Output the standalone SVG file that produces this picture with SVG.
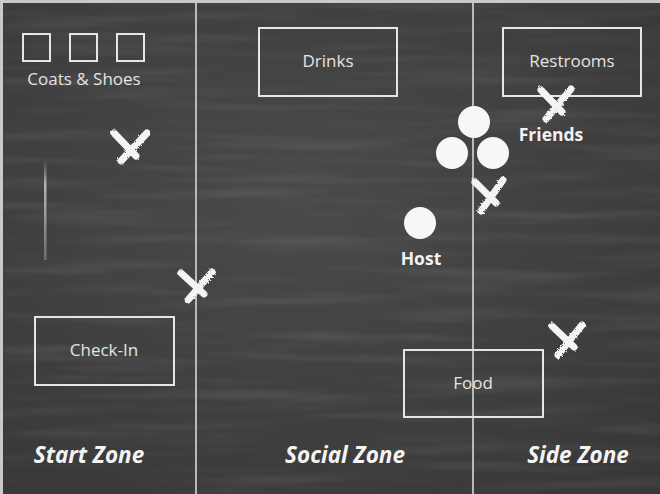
<svg xmlns="http://www.w3.org/2000/svg" width="660" height="494" viewBox="0 0 660 494">
  <defs>
    <style>
      .zone-line { stroke: #b9b9b9; stroke-width: 2; }
      .box { fill: none; stroke: #e6e6e6; stroke-width: 2; }
      .label { font-family: "Open Sans", "Noto Sans", sans-serif; font-size: 17px; fill: #e4e4e4; text-anchor: middle; }
      .name { font-family: "Open Sans", "Noto Sans", sans-serif; font-size: 17.5px; font-weight: bold; fill: #f2f2f2; text-anchor: middle; }
      .zone { font-family: "Open Sans", "Noto Sans", sans-serif; font-size: 22.5px; font-weight: bold; font-style: italic; fill: #f4f4f4; text-anchor: middle; }
      .person { fill: #f7f7f7; }
      .mark { stroke: #f4f4f4; stroke-width: 7; stroke-linecap: round; fill: none; filter: url(#chalk); }
    </style>
    <filter id="streaks" x="0" y="0" width="100%" height="100%">
      <feTurbulence type="fractalNoise" baseFrequency="0.005 0.09" numOctaves="3" seed="7" result="n"/>
      <feColorMatrix in="n" type="matrix" values="0 0 0 0 1  0 0 0 0 1  0 0 0 0 1  1.2 0 0 0 -0.55"/>
      <feGaussianBlur stdDeviation="0.8"/>
    </filter>
    <filter id="chalk" x="-20%" y="-20%" width="140%" height="140%">
      <feTurbulence type="fractalNoise" baseFrequency="0.6" numOctaves="2" seed="3" result="g"/>
      <feDisplacementMap in="SourceGraphic" in2="g" scale="3"/>
      <feGaussianBlur stdDeviation="0.5"/>
    </filter>
    <linearGradient id="smear" x1="0" y1="0" x2="0" y2="1">
      <stop offset="0" stop-color="#d8d8d8" stop-opacity="0"/>
      <stop offset="0.25" stop-color="#d8d8d8" stop-opacity="0.75"/>
      <stop offset="1" stop-color="#d8d8d8" stop-opacity="0.3"/>
    </linearGradient>
    <radialGradient id="board" cx="45%" cy="40%" r="75%">
      <stop offset="0" stop-color="#4a4a4a"/>
      <stop offset="1" stop-color="#383838"/>
    </radialGradient>
  </defs>

  <!-- frame and chalkboard -->
  <rect x="0" y="0" width="660" height="494" fill="#c9c9c9"/>
  <rect x="3" y="3" width="657" height="491" fill="url(#board)"/>
  <rect x="3" y="3" width="657" height="491" filter="url(#streaks)" opacity="0.16"/>
  <rect x="44" y="160" width="2.5" height="100" fill="url(#smear)"/>

  <!-- zone dividers -->
  <g id="dividers">
    <line class="zone-line" x1="196" y1="3" x2="196" y2="494"/>
    <line class="zone-line" x1="473" y1="3" x2="473" y2="494"/>
  </g>

  <g id="coats">
    <rect class="box" x="23" y="34" width="27" height="27"/>
    <rect class="box" x="70" y="34" width="27" height="27"/>
    <rect class="box" x="117" y="34" width="27" height="27"/>
    <text class="label" x="84" y="85">Coats &amp; Shoes</text>
  </g>

  <g id="drinks">
    <rect class="box" x="259" y="28" width="138" height="68"/>
    <text class="label" x="328" y="67">Drinks</text>
  </g>

  <g id="restrooms">
    <rect class="box" x="503" y="28" width="138" height="68"/>
    <text class="label" x="572" y="67">Restrooms</text>
  </g>

  <g id="checkin">
    <rect class="box" x="35" y="317" width="139" height="68"/>
    <text class="label" x="104" y="356">Check-In</text>
  </g>

  <g id="food">
    <rect class="box" x="404" y="350" width="139" height="67"/>
    <text class="label" x="473" y="389">Food</text>
  </g>

  <g id="friends">
    <circle class="person" cx="474" cy="122" r="16"/>
    <circle class="person" cx="452" cy="153" r="16"/>
    <circle class="person" cx="493" cy="153" r="16"/>
    <text class="name" x="551" y="141">Friends</text>
  </g>

  <g id="host">
    <circle class="person" cx="420" cy="223" r="16"/>
    <text class="name" x="421" y="265">Host</text>
  </g>

  <!-- chalk X marks -->
  <g id="marks">
    <path class="mark" d="M114 133 L136 156 M147 133 L121 161"/>
    <path class="mark" d="M181 273 L204 294 M212 272 L188 300"/>
    <path class="mark" d="M475 182 L496 203 M503 180 L481 211"/>
    <path class="mark" d="M541 90 L562 112 M571 89 L546 119"/>
    <path class="mark" d="M552 326 L574 347 M582 325 L558 355"/>
  </g>

  <g id="zones">
    <text class="zone" x="89" y="463">Start Zone</text>
    <text class="zone" x="345" y="463">Social Zone</text>
    <text class="zone" x="578" y="463">Side Zone</text>
  </g>
</svg>
